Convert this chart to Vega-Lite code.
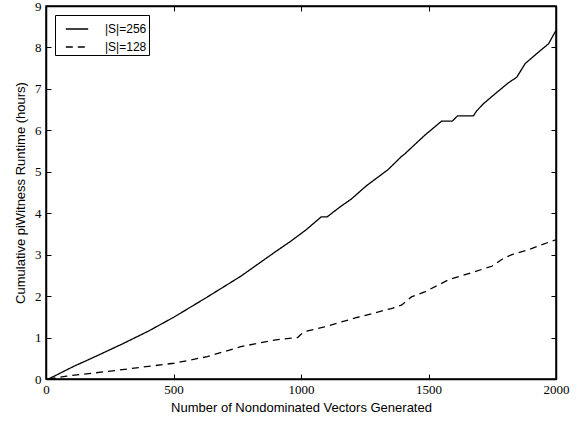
{
  "$schema": "https://vega.github.io/schema/vega-lite/v6.json",
  "width": 510,
  "height": 373,
  "autosize": {"type": "none"},
  "padding": {"left": 46, "top": 6, "right": 23, "bottom": 43},
  "background": "white",
  "config": {
    "view": {"stroke": "black", "strokeWidth": 1.5},
    "axis": {
      "labelFont": "Liberation Serif",
      "labelFontSize": 13,
      "labelColor": "black",
      "labelFlush": false,
      "titleFont": "Liberation Sans",
      "titleFontSize": 13,
      "titleFontWeight": "normal",
      "titleColor": "black",
      "tickColor": "black",
      "tickSize": -5,
      "tickWidth": 1,
      "domainColor": "black",
      "domainWidth": 1.5,
      "grid": false
    }
  },
  "data": {
    "values": [
      {"n": 10, "h": 0, "s": "|S|=256"},
      {"n": 107, "h": 0.30, "s": "|S|=256"},
      {"n": 200, "h": 0.56, "s": "|S|=256"},
      {"n": 304, "h": 0.86, "s": "|S|=256"},
      {"n": 400, "h": 1.15, "s": "|S|=256"},
      {"n": 501, "h": 1.49, "s": "|S|=256"},
      {"n": 633, "h": 1.98, "s": "|S|=256"},
      {"n": 764, "h": 2.48, "s": "|S|=256"},
      {"n": 895, "h": 3.05, "s": "|S|=256"},
      {"n": 961, "h": 3.33, "s": "|S|=256"},
      {"n": 1020, "h": 3.60, "s": "|S|=256"},
      {"n": 1079, "h": 3.91, "s": "|S|=256"},
      {"n": 1102, "h": 3.91, "s": "|S|=256"},
      {"n": 1157, "h": 4.17, "s": "|S|=256"},
      {"n": 1197, "h": 4.34, "s": "|S|=256"},
      {"n": 1256, "h": 4.66, "s": "|S|=256"},
      {"n": 1341, "h": 5.05, "s": "|S|=256"},
      {"n": 1394, "h": 5.37, "s": "|S|=256"},
      {"n": 1405, "h": 5.42, "s": "|S|=256"},
      {"n": 1485, "h": 5.88, "s": "|S|=256"},
      {"n": 1551, "h": 6.22, "s": "|S|=256"},
      {"n": 1593, "h": 6.22, "s": "|S|=256"},
      {"n": 1614, "h": 6.35, "s": "|S|=256"},
      {"n": 1676, "h": 6.35, "s": "|S|=256"},
      {"n": 1689, "h": 6.47, "s": "|S|=256"},
      {"n": 1715, "h": 6.64, "s": "|S|=256"},
      {"n": 1761, "h": 6.88, "s": "|S|=256"},
      {"n": 1814, "h": 7.15, "s": "|S|=256"},
      {"n": 1846, "h": 7.28, "s": "|S|=256"},
      {"n": 1879, "h": 7.61, "s": "|S|=256"},
      {"n": 1932, "h": 7.89, "s": "|S|=256"},
      {"n": 1971, "h": 8.09, "s": "|S|=256"},
      {"n": 2000, "h": 8.41, "s": "|S|=256"},
      {"n": 10, "h": 0, "s": "|S|=128"},
      {"n": 81, "h": 0.07, "s": "|S|=128"},
      {"n": 239, "h": 0.18, "s": "|S|=128"},
      {"n": 501, "h": 0.38, "s": "|S|=128"},
      {"n": 633, "h": 0.54, "s": "|S|=128"},
      {"n": 764, "h": 0.78, "s": "|S|=128"},
      {"n": 895, "h": 0.94, "s": "|S|=128"},
      {"n": 987, "h": 1.00, "s": "|S|=128"},
      {"n": 1000, "h": 1.08, "s": "|S|=128"},
      {"n": 1026, "h": 1.16, "s": "|S|=128"},
      {"n": 1092, "h": 1.26, "s": "|S|=128"},
      {"n": 1223, "h": 1.49, "s": "|S|=128"},
      {"n": 1354, "h": 1.70, "s": "|S|=128"},
      {"n": 1394, "h": 1.78, "s": "|S|=128"},
      {"n": 1433, "h": 1.98, "s": "|S|=128"},
      {"n": 1485, "h": 2.10, "s": "|S|=128"},
      {"n": 1577, "h": 2.39, "s": "|S|=128"},
      {"n": 1682, "h": 2.59, "s": "|S|=128"},
      {"n": 1748, "h": 2.72, "s": "|S|=128"},
      {"n": 1794, "h": 2.91, "s": "|S|=128"},
      {"n": 1827, "h": 3.00, "s": "|S|=128"},
      {"n": 1906, "h": 3.15, "s": "|S|=128"},
      {"n": 1984, "h": 3.33, "s": "|S|=128"},
      {"n": 2000, "h": 3.36, "s": "|S|=128"}
    ]
  },
  "layer": [
    {
      "mark": {"type": "line", "color": "black", "strokeWidth": 1.3},
      "encoding": {
        "x": {
          "field": "n", "type": "quantitative",
          "scale": {"domain": [0, 2000], "nice": false, "zero": false},
          "axis": {"values": [0, 500, 1000, 1500, 2000], "format": "d", "title": "Number of Nondominated Vectors Generated", "labelPadding": 9, "titlePadding": 5}
        },
        "y": {
          "field": "h", "type": "quantitative",
          "scale": {"domain": [0, 9], "nice": false},
          "axis": {"values": [0, 1, 2, 3, 4, 5, 6, 7, 8, 9], "title": "Cumulative piWitness Runtime (hours)", "labelPadding": 10, "titlePadding": 7}
        },
        "strokeDash": {
          "field": "s", "type": "nominal",
          "scale": {"domain": ["|S|=256", "|S|=128"], "range": [[1, 0], [7, 5]]},
          "legend": {
            "title": null,
            "orient": "top-left",
            "offset": 9,
            "strokeColor": "black",
            "fillColor": "white",
            "padding": 2,
            "symbolType": "stroke",
            "symbolSize": 500,
            "symbolOffset": 8,
            "symbolStrokeColor": "black",
            "symbolStrokeWidth": 1.3,
            "labelFont": "Liberation Sans",
            "labelFontSize": 12,
            "labelColor": "black",
            "rowPadding": 0,
            "labelOffset": 16
          }
        },
        "detail": {"field": "s"}
      }
    },
    {
      "mark": {"type": "rule", "opacity": 0},
      "encoding": {
        "x": {"field": "n", "type": "quantitative", "axis": {"orient": "top", "values": [0, 500, 1000, 1500, 2000], "labels": false, "title": null}},
        "y": {"field": "h", "type": "quantitative", "axis": {"orient": "right", "values": [0, 1, 2, 3, 4, 5, 6, 7, 8, 9], "labels": false, "title": null}}
      }
    }
  ],
  "resolve": {"axis": {"x": "independent", "y": "independent"}}
}
